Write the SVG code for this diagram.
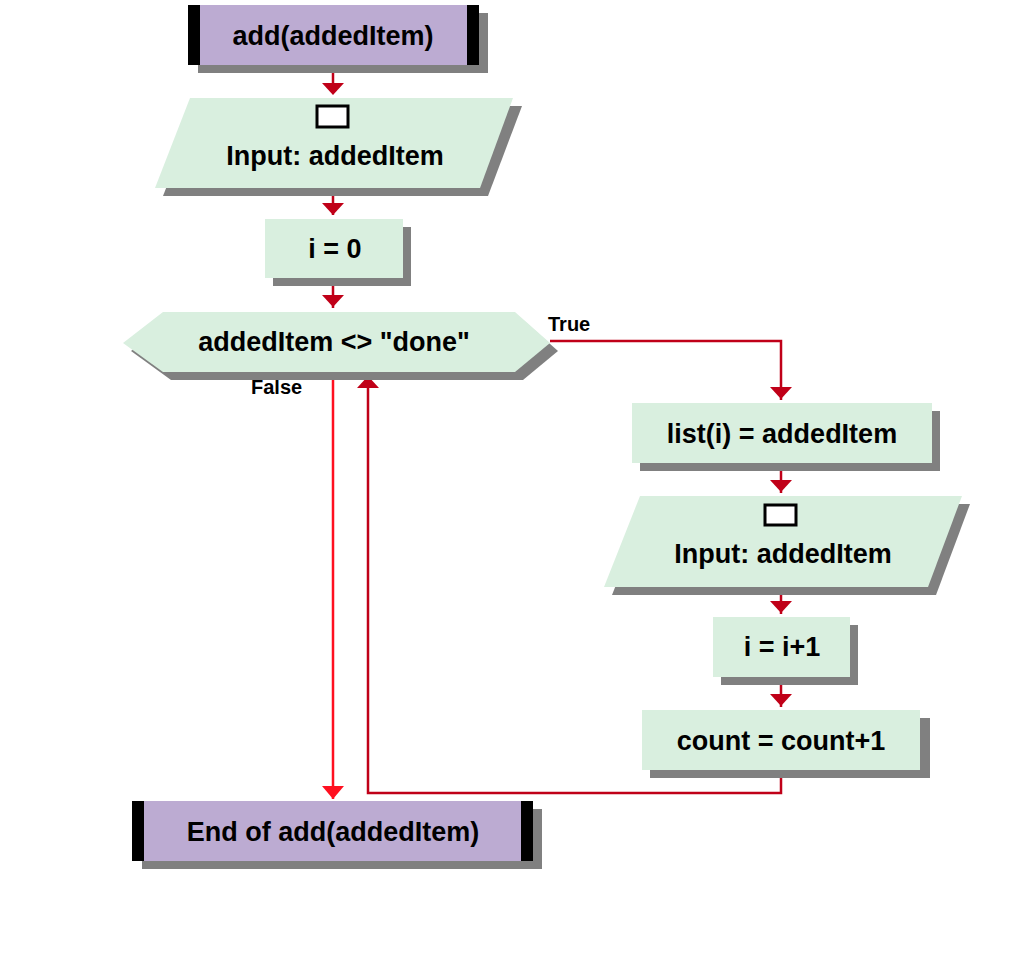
<svg xmlns="http://www.w3.org/2000/svg" width="1024" height="958" viewBox="0 0 1024 958">
<style>
.t{font-family:"Liberation Sans",Arial,sans-serif;font-weight:bold;font-size:27px;fill:#000;text-anchor:middle}
.l{font-family:"Liberation Sans",Arial,sans-serif;font-weight:bold;font-size:20px;fill:#000}
.sh{fill:#808080}
.g{fill:#d9efdf}
.p{fill:#bcabd2}
.c{fill:none;stroke:#c00018;stroke-width:2.5}
.cr{fill:none;stroke:#ff1020;stroke-width:2.5}
.ib{fill:#fff;stroke:#000;stroke-width:3}
</style>
<defs>
<marker id="a" viewBox="0 0 10 10" refX="10" refY="5" markerWidth="7" markerHeight="7" orient="auto" markerUnits="userSpaceOnUse">
<path d="M0,0L10,5L0,10z" fill="#c00018"/></marker>
<marker id="ar" viewBox="0 0 10 10" refX="10" refY="5" markerWidth="7" markerHeight="7" orient="auto" markerUnits="userSpaceOnUse">
<path d="M0,0L10,5L0,10z" fill="#ff1020"/></marker>
</defs>
<rect width="1024" height="958" fill="#fff"/>
<g id="connectors">
<path class="c" d="M333,67V93" marker-end="url(#a)" style="marker-end:url(#a)"/>
<path class="c" d="M333,191V215"/>
<path class="c" d="M333,281V308"/>
<path class="c" d="M550,341H781V400"/>
<path class="c" d="M781,465V493"/>
<path class="c" d="M781,590V614"/>
<path class="c" d="M781,680V707"/>
<path class="c" d="M781,772V793H368V377"/>
<path class="cr" d="M333,376V799"/>
<g fill="#c00018">
<path d="M322,83H344L333,95z"/>
<path d="M322,203H344L333,215z"/>
<path d="M322,295H344L333,307z"/>
<path d="M770,387H792L781,399z"/>
<path d="M770,480H792L781,492z"/>
<path d="M770,601H792L781,613z"/>
<path d="M770,694H792L781,706z"/>
<path d="M357,388H379L368,376z"/>
</g>
<path d="M322,786H344L333,799z" fill="#ff1020"/>
<text class="l" x="548" y="331">True</text>
<text class="l" x="251" y="394">False</text>
</g>
<g id="start">
<rect class="sh" x="198" y="13" width="290" height="60"/>
<rect class="p" x="188" y="5" width="290" height="60"/>
<rect x="188" y="5" width="12" height="60"/>
<rect x="467" y="5" width="12" height="60"/>
<text class="t" x="333" y="45">add(addedItem)</text>
</g>
<g id="input1">
<path class="sh" d="M198,106H522L488,196H163z"/>
<path class="g" d="M190,98H513L480,188H155z"/>
<rect class="ib" x="317" y="106" width="31" height="21"/>
<text class="t" x="335" y="165">Input: addedItem</text>
</g>
<g id="init">
<rect class="sh" x="273" y="227" width="138" height="59"/>
<rect class="g" x="265" y="219" width="138" height="59"/>
<text class="t" x="335" y="258">i = 0</text>
</g>
<g id="cond">
<path class="sh" d="M131,351L171,320H523L558,351L523,380H171z"/>
<path class="g" d="M123,343L163,312H515L550,343L515,372H163z"/>
<text class="t" x="334" y="351">addedItem &lt;&gt; "done"</text>
</g>
<g id="assign">
<rect class="sh" x="640" y="411" width="300" height="60"/>
<rect class="g" x="632" y="403" width="300" height="60"/>
<text class="t" x="782" y="443">list(i) = addedItem</text>
</g>
<g id="input2">
<path class="sh" d="M648,504H970L936,595H612z"/>
<path class="g" d="M640,496H962L928,587H604z"/>
<rect class="ib" x="765" y="505" width="31" height="20"/>
<text class="t" x="783" y="563">Input: addedItem</text>
</g>
<g id="inc">
<rect class="sh" x="721" y="625" width="137" height="60"/>
<rect class="g" x="713" y="617" width="137" height="60"/>
<text class="t" x="782" y="656">i = i+1</text>
</g>
<g id="count">
<rect class="sh" x="650" y="718" width="280" height="60"/>
<rect class="g" x="642" y="710" width="278" height="60"/>
<text class="t" x="781" y="750">count = count+1</text>
</g>
<g id="end">
<rect class="sh" x="142" y="809" width="400" height="60"/>
<rect class="p" x="132" y="801" width="400" height="60"/>
<rect x="132" y="801" width="12" height="60"/>
<rect x="521" y="801" width="12" height="60"/>
<text class="t" x="333" y="841">End of add(addedItem)</text>
</g>
</svg>
